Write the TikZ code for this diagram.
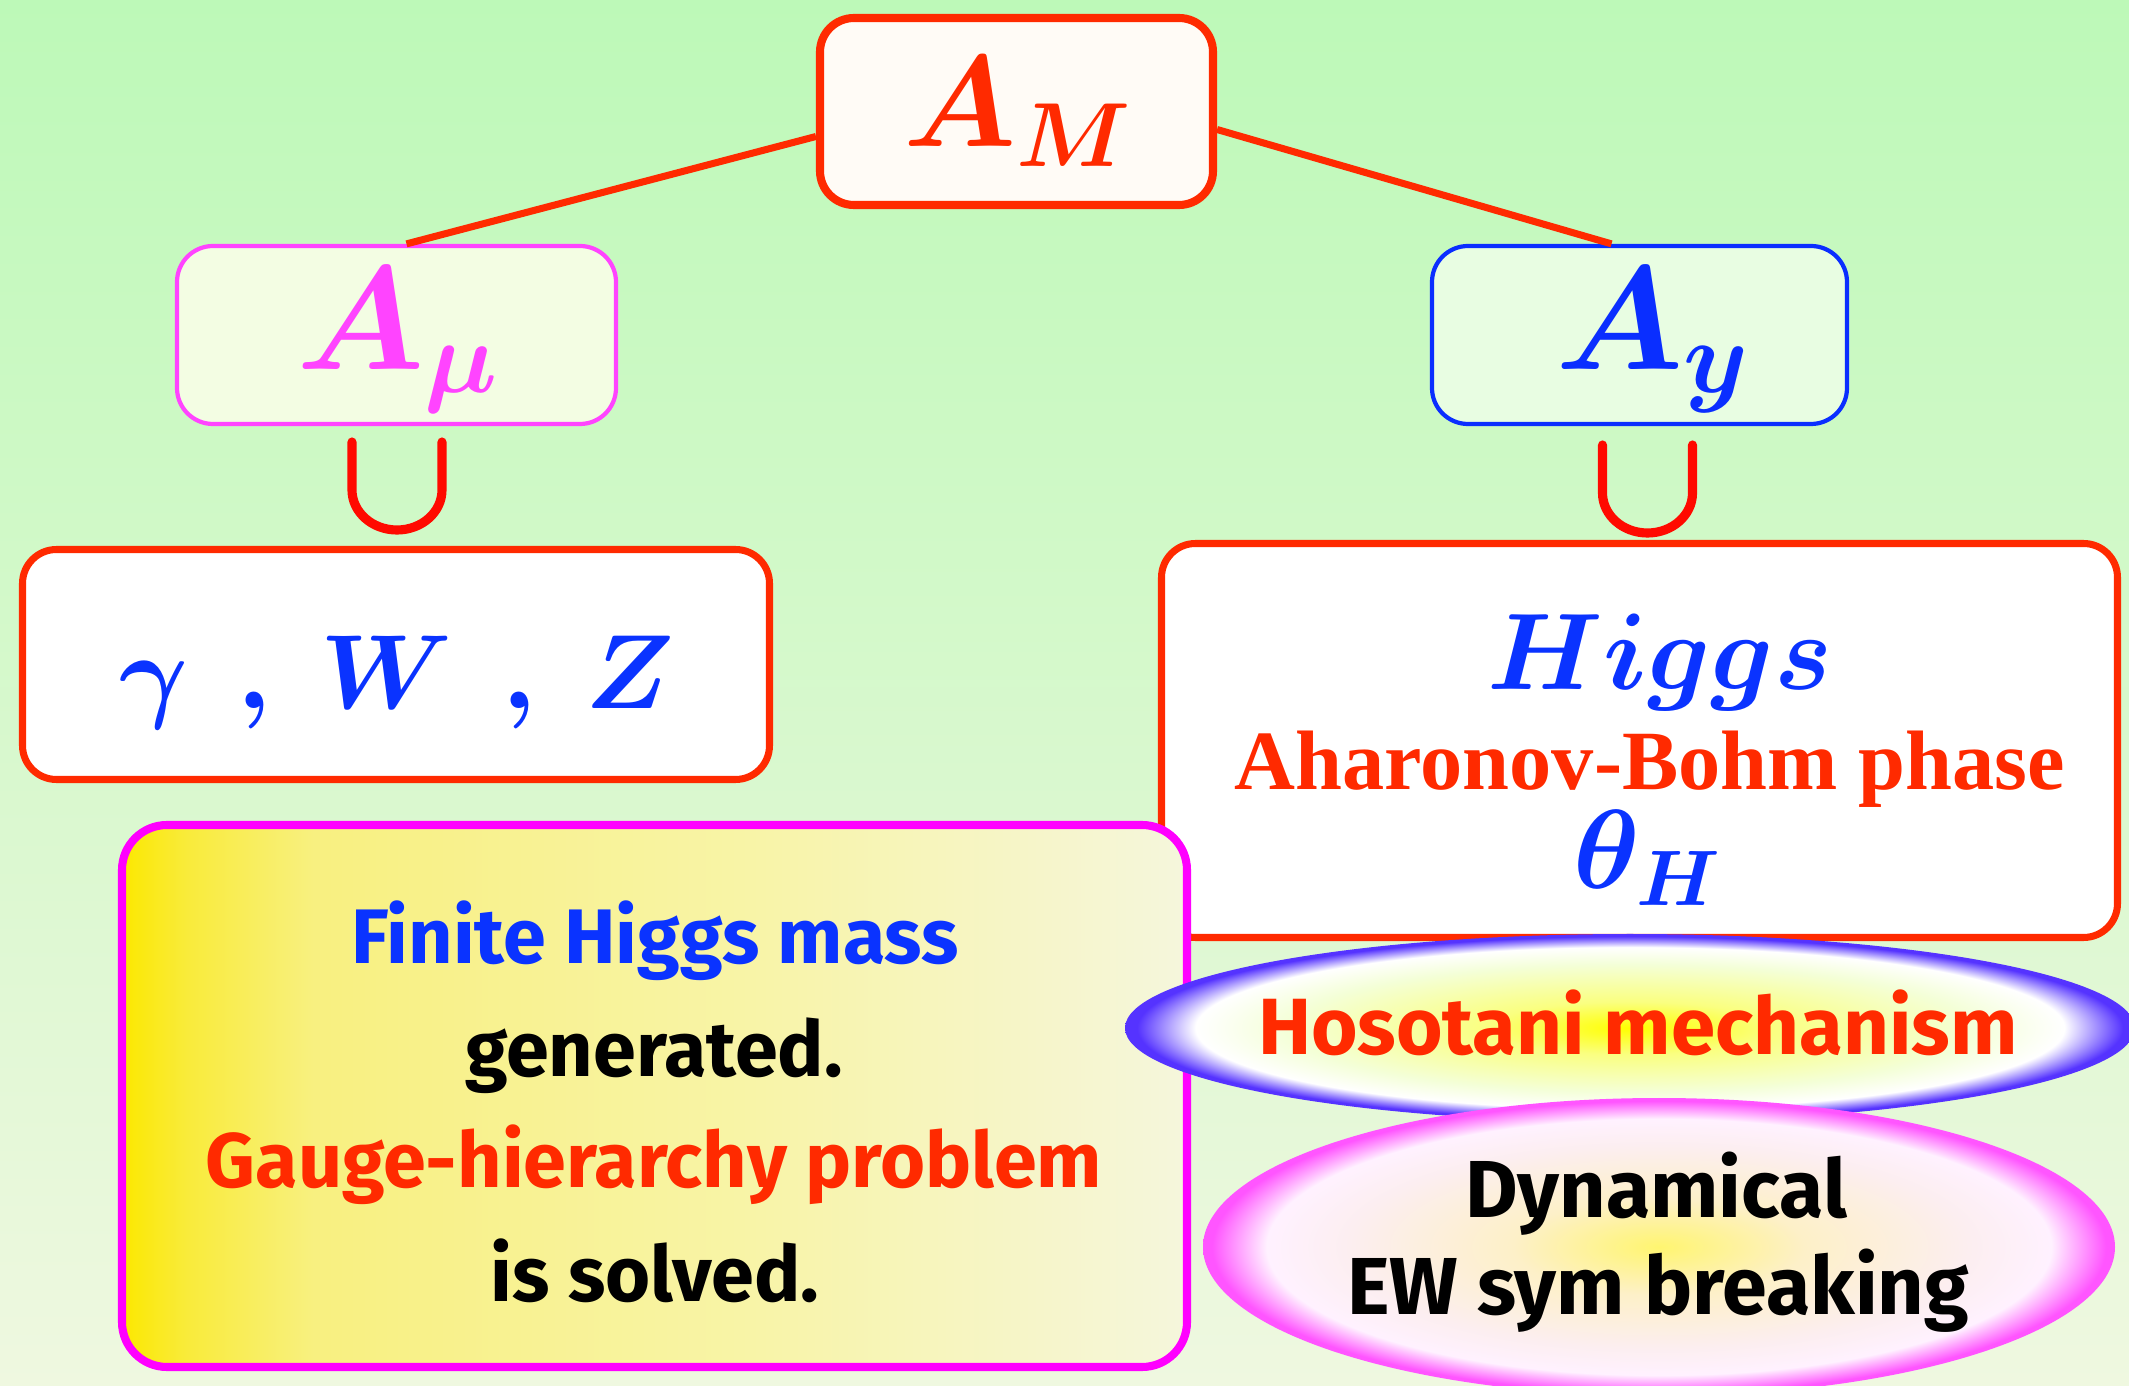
\RequirePackage{fix-cm}
\documentclass[tikz,border=0pt]{standalone}
\usepackage{amsmath}
\usepackage{bm}
\usepackage[no-math]{fontspec}
\newfontfamily\comicfont{Fira Sans}
\newfontfamily\abfont{Liberation Serif}
\usetikzlibrary{positioning, shapes.geometric, calc}
\usepackage{xcolor}
\definecolor{bgTop}{HTML}{BDF9B8}
\definecolor{bgBot}{HTML}{EFF8E0}
\definecolor{lineRed}{HTML}{FF2A00}
\definecolor{cupRed}{HTML}{FF0A00}
\definecolor{amFill}{HTML}{FFFBF6}
\definecolor{muMag}{HTML}{FF44FF}
\definecolor{muFill}{HTML}{F3FDE3}
\definecolor{yBlue}{HTML}{0A2EFF}
\definecolor{yFill}{HTML}{E8FDE2}
\definecolor{txtBlue}{HTML}{0A33FF}
\definecolor{finMag}{HTML}{FF00FF}
\definecolor{finA}{HTML}{FBE800}
\definecolor{finB}{HTML}{F9EB3A}
\definecolor{finC}{HTML}{F8F080}
\definecolor{finD}{HTML}{F8F4A8}
\definecolor{finE}{HTML}{F5F6DC}
\definecolor{hosoCore}{HTML}{FFFF00}
\definecolor{hosoMid}{HTML}{FAFF80}
\definecolor{hosoPale}{HTML}{F4FFD8}
\definecolor{hosoEdge}{HTML}{5533FF}
\definecolor{dynCore}{HTML}{FFF570}
\definecolor{dynMid}{HTML}{FDF0C8}
\definecolor{dynPale}{HTML}{FCEEF0}
\definecolor{dynEdge}{HTML}{FF55FF}

\pgfdeclarehorizontalshading{finshade}{100bp}{color(0bp)=(finA); color(25bp)=(finA);
  color(28bp)=(finB); color(34bp)=(finC); color(55bp)=(finD); color(75bp)=(finE); color(100bp)=(finE)}
\pgfdeclareradialshading{hososhade}{\pgfpoint{0bp}{0bp}}{color(0bp)=(hosoCore);
  color(7bp)=(hosoMid); color(17bp)=(hosoPale); color(21.5bp)=(white); color(24.4bp)=(hosoEdge);
  color(25bp)=(hosoEdge); color(50bp)=(hosoEdge)}
\pgfdeclareradialshading{dynshade}{\pgfpoint{0bp}{0bp}}{color(0bp)=(dynCore);
  color(8bp)=(dynMid); color(17bp)=(dynPale); color(21.5bp)=(white!92!dynEdge); color(24.5bp)=(dynEdge);
  color(25bp)=(dynEdge); color(50bp)=(dynEdge)}

\begin{document}
\begin{tikzpicture}[
    box/.style={draw=lineRed, line width=2pt, rounded corners=0.34cm, fill=white},
    smallbox/.style={line width=1.2pt, rounded corners=0.36cm},
    link/.style={draw=lineRed, line width=2pt},
    cupsym/.style={draw=cupRed, line width=2.6pt, line cap=round},
    mathtxt/.style={anchor=base, inner sep=0pt},
    comic/.style={anchor=base, inner sep=0pt, font=\comicfont\bfseries\fontsize{22}{26}\selectfont},
  ]
  % Hintergrund
  \shade[top color=bgTop, bottom color=bgBot] (0,0) rectangle (21.29,-13.86);
  \useasboundingbox (0,0) rectangle (21.29,-13.86);

  % A_M und Zerlegung
  \node[box, line width=2.3pt, fill=amFill, minimum width=3.93cm, minimum height=1.87cm] (AM) at (10.165,-1.115) {};
  \node[box, smallbox, draw=muMag, fill=muFill, minimum width=4.39cm, minimum height=1.78cm] (Amu) at (3.965,-3.35) {};
  \node[box, smallbox, draw=yBlue, fill=yFill, minimum width=4.15cm, minimum height=1.78cm] (Ay) at (16.395,-3.35) {};
  \draw[link] ($(AM.west)+(0,-0.25)$) -- ([xshift=0.1cm]Amu.north);
  \draw[link] ($(AM.east)+(0,-0.18)$) -- ([xshift=-0.28cm]Ay.north);

  \node[mathtxt, text=lineRed, font=\fontsize{37}{40}\selectfont] (AMtxt) at (10.18,-1.47) {$\bm{A_M}$};
  \node[mathtxt, text=muMag, font=\fontsize{42}{46}\selectfont] (Amutxt) at (3.98,-3.70) {$\bm{A_\mu}$};
  \node[mathtxt, text=yBlue, font=\fontsize{42}{46}\selectfont] (Aytxt) at (16.53,-3.70) {$\bm{A_y}$};

  % Teilmengen-Zeichen
  \foreach \x/\y in {3.97/4.42, 16.475/4.45}
    \draw[cupsym] (\x-0.45,-\y) -- (\x-0.45,-\y-0.48)
      arc[start angle=180, end angle=360, x radius=0.45, y radius=0.40] -- (\x+0.45,-\y);

  % Eichbosonen
  \node[box, line width=2pt, minimum width=7.47cm, minimum height=2.30cm] (gauge) at (3.96,-6.645) {};
  \node[mathtxt, text=txtBlue, font=\fontsize{30}{34}\selectfont] (gaugetxt) at (3.97,-7.09)
    {$\bm{\gamma}\ \,\bm{,}\ \bm{W}\ \,\bm{,}\ \bm{Z}$};

  % Higgs
  \node[box, line width=2pt, minimum width=9.56cm, minimum height=3.94cm] (higgs) at (16.395,-7.405) {};
  \node[mathtxt, text=txtBlue, font=\fontsize{31}{34}\selectfont] (higgstxt) at (16.60,-6.90) {$\bm{Higgs}$};
  \node[mathtxt, text=lineRed, font=\abfont\bfseries\fontsize{24}{26}\selectfont] (abtxt) at (16.50,-7.90) {Aharonov-Bohm phase};
  \node[mathtxt, text=txtBlue, font=\fontsize{32}{36}\selectfont] (thetatxt) at (16.48,-8.89) {$\bm{\theta_H}$};

  % Endliche Higgs-Masse
  \node[draw=finMag, line width=2.3pt, rounded corners=0.45cm, shading=finshade,
        minimum width=10.65cm, minimum height=5.42cm] (finite) at (6.545,-10.96) {};
  \node[comic, text=txtBlue] (fin1) at (6.55,-9.64) {Finite Higgs mass};
  \node[comic] (fin2) at (6.54,-10.77) {generated.};
  \node[comic, text=lineRed] (fin3) at (6.54,-11.88) {Gauge-hierarchy problem};
  \node[comic] (fin4) at (6.55,-13.01) {is solved.};

  % Hosotani-Mechanismus
  \node[ellipse, shading=hososhade, minimum width=10.1cm, minimum height=1.88cm] (hosotani) at (16.30,-10.28) {};
  \node[comic, text=lineRed, font=\comicfont\bfseries\fontsize{22.7}{26}\selectfont] (hosotxt) at (16.38,-10.55) {Hosotani mechanism};

  \node[ellipse, shading=dynshade, minimum width=9.12cm, minimum height=2.98cm] (dynamical) at (16.59,-12.47) {};
  \node[comic, font=\comicfont\bfseries\fontsize{23}{26}\selectfont] (dyntxt1) at (16.56,-12.18) {Dynamical};
  \node[comic, font=\comicfont\bfseries\fontsize{23}{26}\selectfont] (dyntxt2) at (16.58,-13.14) {EW sym breaking};
\end{tikzpicture}
\end{document}
